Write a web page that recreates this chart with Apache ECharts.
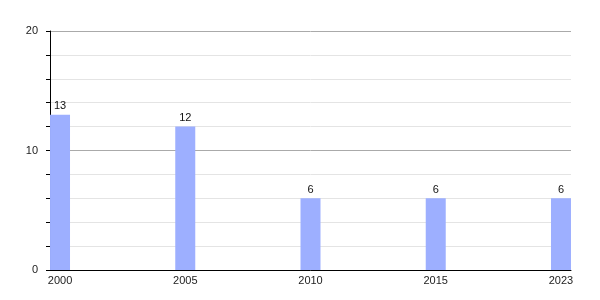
<!DOCTYPE html>
<html><head><meta charset="utf-8">
<script src="https://cdn.jsdelivr.net/npm/echarts@6/dist/echarts.min.js"></script>
<style>html,body{margin:0;padding:0;background:#fff}#c{width:600px;height:300px}</style>
</head><body><div id="c"></div>
<script>
const years = ['2000','2005','2010','2015','2023'];
const values = [13, 12, 6, 6, 6];
const yTicks = [0, 10, 20];

const chart = echarts.init(document.getElementById('c'), null, {renderer:'canvas'});
const font = 'Liberation Sans, Arial, sans-serif';
chart.setOption({
  animation: false,
  grid: {left: 50, right: 29, top: 31, bottom: 30},
  xAxis: {
    type: 'value', min: -0.08, max: 4.08,
    splitLine: {show: false},
    axisLine: {show: true, onZero: false, lineStyle: {color: '#000', width: 1}},
    axisTick: {show: false},
    axisLabel: {
      customValues: years.map((_, i) => i),
      formatter: v => years[Math.round(v)],
      color: '#222', fontSize: 11, fontFamily: font, margin: 5
    }
  },
  yAxis: {
    type: 'value', min: yTicks[0], max: yTicks[yTicks.length-1], interval: 10,
    axisLine: {show: true, onZero: false, lineStyle: {color: '#000', width: 1}},
    axisTick: {show: true, length: 4, lineStyle: {color: '#000'}},
    minorTick: {show: true, splitNumber: 5, length: 4, lineStyle: {color: '#000'}},
    splitLine: {show: true, lineStyle: {color: '#aaaaaa', width: 1}},
    minorSplitLine: {show: true, lineStyle: {color: '#e4e4e4', width: 1}},
    axisLabel: {color: '#222', fontSize: 11, fontFamily: font, margin: 12}
  },
  series: [{
    type: 'bar',
    data: values.map((v, i) => [i, v]),
    barWidth: 20,
    itemStyle: {color: '#9dafff'},
    label: {show: true, position: 'top', color: '#111', fontSize: 11, fontFamily: font, distance: 3}
  }]
});
</script></body></html>
